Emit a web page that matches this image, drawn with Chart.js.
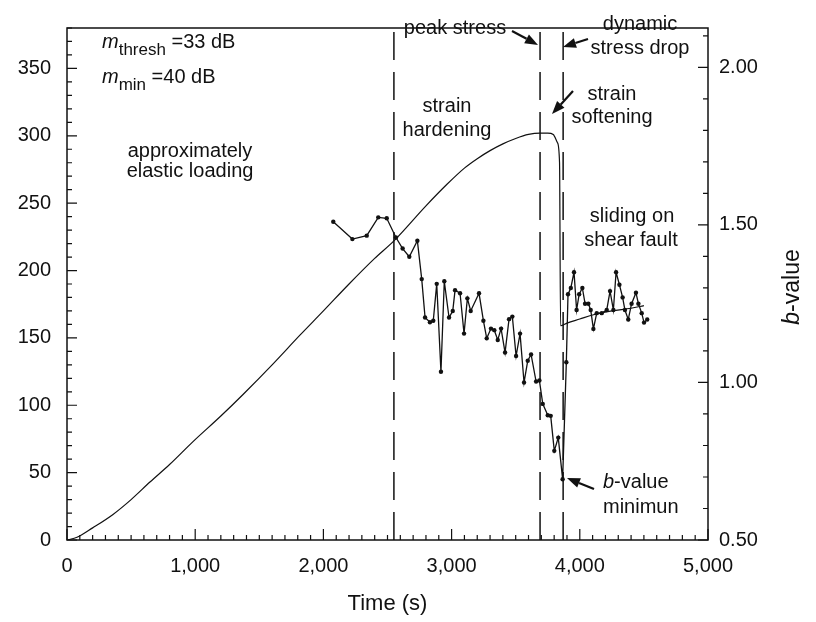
<!DOCTYPE html>
<html lang="en">
<head>
    <meta charset="UTF-8">
    <title>Stress and b-value vs time</title>
    <script src="https://cdn.jsdelivr.net/npm/chart.js@4.4.1/dist/chart.umd.min.js"></script>
    <style>
        body { margin: 0; background: #fff; }
        canvas { display: block; background: #fff; }
    </style>
</head>
<body>
    <canvas id="myChart" width="816" height="622"></canvas>

    <script>
      // stress curve (left axis)
      const stressTime  = [0, 78, 200, 359, 500, 647, 800, 983, 1200, 1373, 1600, 1817, 2000, 2200, 2400, 2550, 2800, 2964, 3100, 3200, 3300, 3400, 3500, 3600, 3690, 3750, 3793, 3825, 3842, 3850, 3900, 4000, 4100, 4250, 4400, 4500];
      const stressValue = [0, 2, 9, 19, 30, 43, 56, 73, 92, 108, 130, 152, 170, 190, 209, 222, 248, 264, 276, 283, 289, 294, 298, 301, 302, 302, 301, 295, 280, 159, 161, 164, 167, 170, 172, 174];

      // b-value series (right axis)
      const bTime  = [2077, 2226, 2338, 2428, 2494, 2566, 2618, 2670, 2733, 2767, 2793, 2831, 2857, 2884, 2917, 2943, 2980, 3009, 3027, 3066, 3097, 3123, 3149, 3214, 3248, 3274, 3307, 3333, 3360, 3386, 3417, 3448, 3474, 3503, 3534, 3565, 3594, 3620, 3659, 3685, 3711, 3750, 3773, 3801, 3832, 3866, 3895, 3908, 3930, 3955, 3975, 3995, 4020, 4041, 4067, 4085, 4106, 4132, 4171, 4210, 4236, 4262, 4283, 4309, 4334, 4352, 4378, 4404, 4438, 4457, 4483, 4501, 4526];
      const bValue = [1.51, 1.455, 1.466, 1.524, 1.521, 1.46, 1.425, 1.399, 1.45, 1.328, 1.206, 1.191, 1.196, 1.313, 1.034, 1.321, 1.206, 1.227, 1.293, 1.283, 1.155, 1.267, 1.227, 1.283, 1.196, 1.14, 1.171, 1.166, 1.135, 1.171, 1.095, 1.201, 1.209, 1.084, 1.155, 1.0, 1.069, 1.089, 1.003, 1.006, 0.932, 0.896, 0.894, 0.783, 0.825, 0.693, 1.064, 1.28, 1.30, 1.35, 1.23, 1.28, 1.30, 1.25, 1.25, 1.23, 1.17, 1.22, 1.22, 1.23, 1.29, 1.23, 1.35, 1.31, 1.27, 1.23, 1.20, 1.25, 1.285, 1.25, 1.22, 1.19, 1.20];

      // vertical dashed markers
      const phaseTimes = [2550, 3690, 3870];

      const xTicks = [0, 1000, 2000, 3000, 4000, 5000];
      const stressTicks = [0, 50, 100, 150, 200, 250, 300, 350];
      const bTicks = [0.5, 1.0, 1.5, 2.0];

      const ink = '#111';
      const fam = '"Liberation Sans", Arial, sans-serif';

      function drawArrow(ctx, x1, y1, x2, y2) {
        const ang = Math.atan2(y2 - y1, x2 - x1);
        const hl = 13, hw = 5;
        const bx = x2 - hl * Math.cos(ang), by = y2 - hl * Math.sin(ang);
        ctx.lineWidth = 2.2;
        ctx.beginPath();
        ctx.moveTo(x1, y1);
        ctx.lineTo(bx, by);
        ctx.stroke();
        ctx.beginPath();
        ctx.moveTo(x2, y2);
        ctx.lineTo(bx + hw * Math.sin(ang), by - hw * Math.cos(ang));
        ctx.lineTo(bx - hw * Math.sin(ang), by + hw * Math.cos(ang));
        ctx.closePath();
        ctx.fill();
      }

      // draws a list of text runs one after another
      function drawRuns(ctx, x, y, runs) {
        ctx.textAlign = 'left';
        runs.forEach(r => {
          ctx.font = r.font;
          ctx.fillText(r.t, x, y + (r.dy || 0));
          x += ctx.measureText(r.t).width;
        });
      }

      const framePlugin = {
        id: 'frame',
        afterDraw(chart) {
          const ctx = chart.ctx;
          const a = chart.chartArea;
          const sx = chart.scales.x, sy = chart.scales.y, sb = chart.scales.y2;
          ctx.save();
          ctx.strokeStyle = ink;
          ctx.fillStyle = ink;
          ctx.lineWidth = 1.5;
          ctx.strokeRect(a.left, a.top, a.right - a.left, a.bottom - a.top);

          // inward ticks
          ctx.lineWidth = 1.2;
          ctx.beginPath();
          for (let i = 0; i <= 50; i++) {
            const px = sx.getPixelForValue(i * 100);
            const len = i % 10 === 0 ? 11 : 5;
            ctx.moveTo(px, a.bottom);
            ctx.lineTo(px, a.bottom - len);
          }
          for (let i = 0; i <= 38; i++) {
            const py = sy.getPixelForValue(i * 10);
            const len = i % 5 === 0 ? 10 : 5;
            ctx.moveTo(a.left, py);
            ctx.lineTo(a.left + len, py);
          }
          for (let i = 5; i <= 21; i++) {
            const py = sb.getPixelForValue(i / 10);
            const len = i % 5 === 0 ? 10 : 5;
            ctx.moveTo(a.right, py);
            ctx.lineTo(a.right - len, py);
          }
          ctx.stroke();

          // annotations
          ctx.textBaseline = 'alphabetic';
          const f = '20px ' + fam;
          drawRuns(ctx, 102, 48, [
            { t: 'm', font: 'italic 20px ' + fam },
            { t: 'thresh', font: '17px ' + fam, dy: 7 },
            { t: ' =33 dB', font: f }
          ]);
          drawRuns(ctx, 102, 83, [
            { t: 'm', font: 'italic 20px ' + fam },
            { t: 'min', font: '17px ' + fam, dy: 7 },
            { t: ' =40 dB', font: f }
          ]);

          ctx.font = f;
          ctx.textAlign = 'center';
          ctx.fillText('approximately', 190, 157);
          ctx.fillText('elastic loading', 190, 177);
          ctx.fillText('strain', 447, 112);
          ctx.fillText('hardening', 447, 136);
          ctx.fillText('peak stress', 455, 34);
          ctx.fillText('dynamic', 640, 30);
          ctx.fillText('stress drop', 640, 54);
          ctx.fillText('strain', 612, 100);
          ctx.fillText('softening', 612, 123);
          ctx.fillText('sliding on', 632, 222);
          ctx.fillText('shear fault', 631, 246);

          drawRuns(ctx, 603, 488, [
            { t: 'b', font: 'italic 20px ' + fam },
            { t: '-value', font: f }
          ]);
          ctx.font = f;
          ctx.textAlign = 'left';
          ctx.fillText('minimun', 603, 513);

          drawArrow(ctx, 512, 31, 538, 45);
          drawArrow(ctx, 588, 39, 563, 47);
          drawArrow(ctx, 573, 91, 552, 114);
          drawArrow(ctx, 594, 489, 567, 478);

          // right axis title
          ctx.translate(793, 287);
          ctx.rotate(-Math.PI / 2);
          ctx.font = 'italic 23px ' + fam;
          const w1 = ctx.measureText('b').width;
          ctx.font = '23px ' + fam;
          const w2 = ctx.measureText('-value').width;
          ctx.textBaseline = 'middle';
          drawRuns(ctx, -(w1 + w2) / 2, 0, [
            { t: 'b', font: 'italic 23px ' + fam },
            { t: '-value', font: '23px ' + fam }
          ]);
          ctx.restore();
        }
      };

      const toPoints = (xs, ys) => xs.map((x, i) => ({ x: x, y: ys[i] }));

      const phaseSets = phaseTimes.map(t => ({
        data: [{ x: t, y: 0 }, { x: t, y: 380 }],
        yAxisID: 'y',
        borderColor: ink,
        borderWidth: 1.5,
        borderDash: [28, 12],
        pointRadius: 0
      }));

      const chart = new Chart(document.getElementById('myChart').getContext('2d'), {
        type: 'line',
        data: {
          datasets: [
            {
              data: toPoints(stressTime, stressValue),
              yAxisID: 'y',
              borderColor: ink,
              borderWidth: 1.2,
              pointRadius: 0,
              cubicInterpolationMode: 'monotone'
            },
            {
              data: toPoints(bTime, bValue),
              yAxisID: 'y2',
              borderColor: ink,
              borderWidth: 1.3,
              pointRadius: 2.2,
              pointBackgroundColor: ink,
              pointBorderWidth: 0,
              tension: 0
            },
            ...phaseSets
          ]
        },
        options: {
          responsive: false,
          animation: false,
          devicePixelRatio: 1,
          layout: { padding: { top: 7 } },
          plugins: { legend: { display: false }, tooltip: { enabled: false } },
          scales: {
            x: {
              type: 'linear',
              min: 0,
              max: 5000,
              afterBuildTicks: s => { s.ticks = xTicks.map(v => ({ value: v })); },
              afterFit: s => { s.height = 82; },
              grid: { display: false, drawTicks: false },
              border: { display: false },
              ticks: {
                padding: 14,
                maxRotation: 0,
                color: ink,
                font: { family: fam, size: 20 },
                callback: v => v.toLocaleString('en-US')
              },
              title: {
                display: true,
                text: 'Time (s)',
                color: ink,
                font: { family: fam, size: 22 },
                padding: { top: 0, bottom: 5 }
              }
            },
            y: {
              position: 'left',
              min: 0,
              max: 380,
              afterBuildTicks: s => { s.ticks = stressTicks.map(v => ({ value: v })); },
              afterFit: s => { s.width = 67; },
              grid: { display: false, drawTicks: false },
              border: { display: false },
              ticks: {
                padding: 16,
                color: ink,
                font: { family: fam, size: 20 }
              }
            },
            y2: {
              position: 'right',
              min: 0.5,
              max: 2.125,
              afterBuildTicks: s => { s.ticks = bTicks.map(v => ({ value: v })); },
              afterFit: s => { s.width = 108; },
              grid: { display: false, drawTicks: false },
              border: { display: false },
              ticks: {
                padding: 11,
                color: ink,
                font: { family: fam, size: 20 },
                callback: v => v.toFixed(2)
              }
            }
          }
        },
        plugins: [framePlugin]
      });
    </script>
</body>
</html>
